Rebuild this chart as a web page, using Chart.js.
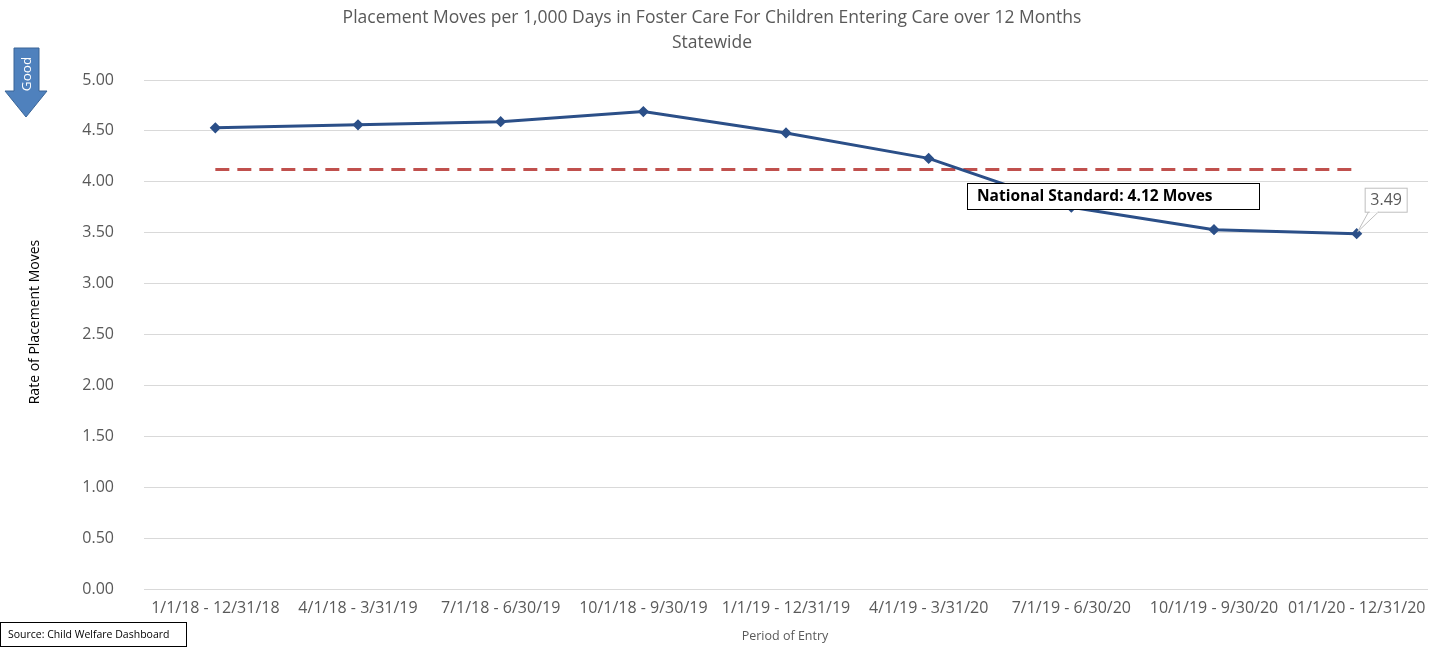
<!DOCTYPE html>
<html>
<head>
<meta charset="utf-8">
<script src="https://cdn.jsdelivr.net/npm/chart.js@4.4.1/dist/chart.umd.min.js"></script>
<style>
  html, body { margin: 0; padding: 0; background: #fff; }
  #wrap { position: relative; width: 1442px; height: 647px; }
</style>
</head>
<body>
<div id="wrap"><canvas id="moves-chart" width="1442" height="647"></canvas></div>
<script>
// chart data
let periods = ['1/1/18 - 12/31/18', '4/1/18 - 3/31/19', '7/1/18 - 6/30/19', '10/1/18 - 9/30/19',
  '1/1/19 - 12/31/19', '4/1/19 - 3/31/20', '7/1/19 - 6/30/20', '10/1/19 - 9/30/20', '01/1/20 - 12/31/20'];
let moveRates = [4.53, 4.56, 4.59, 4.69, 4.48, 4.23, 3.75, 3.53, 3.49];
let nationalStandard = [4.12, 4.12, 4.12, 4.12, 4.12, 4.12, 4.12, 4.12, 4.12];
let yTicks = [0, 0.5, 1, 1.5, 2, 2.5, 3, 3.5, 4, 4.5, 5];

let titleLines = ['Placement Moves per 1,000 Days in Foster Care For Children Entering Care over 12 Months', 'Statewide'];
let fontFamily = '"Open Sans", "Noto Sans", sans-serif';
let gray = '#595959';

// draws titles, the "Good" arrow, label boxes and source note
let extras = {
  id: 'extras',
  afterDatasetsDraw(chart){
    let ctx = chart.ctx;
    let xs = chart.scales.x;
    let ys = chart.scales.y;
    ctx.save();

    // title
    ctx.fillStyle = gray;
    ctx.font = '17.5px ' + fontFamily;
    ctx.textAlign = 'center';
    ctx.textBaseline = 'middle';
    ctx.fillText(titleLines[0], 712, 18);
    ctx.fillText(titleLines[1], 712, 43);

    // axis titles
    ctx.font = '12.5px ' + fontFamily;
    ctx.fillText('Period of Entry', 785, 636);
    ctx.save();
    ctx.translate(35, 322);
    ctx.rotate(-Math.PI / 2);
    ctx.fillStyle = '#000';
    ctx.font = '14px ' + fontFamily;
    ctx.fillText('Rate of Placement Moves', 0, 0);
    ctx.restore();

    // good arrow
    ctx.beginPath();
    ctx.moveTo(14, 48);
    ctx.lineTo(39, 48);
    ctx.lineTo(39, 91);
    ctx.lineTo(47, 91);
    ctx.lineTo(26, 117);
    ctx.lineTo(5, 91);
    ctx.lineTo(14, 91);
    ctx.closePath();
    ctx.fillStyle = '#4f81bd';
    ctx.fill();
    ctx.strokeStyle = '#3a6597';
    ctx.lineWidth = 1;
    ctx.stroke();
    ctx.save();
    ctx.translate(27, 74);
    ctx.rotate(-Math.PI / 2);
    ctx.fillStyle = '#fff';
    ctx.font = '13.5px ' + fontFamily;
    ctx.fillText('Good', 0, 0);
    ctx.restore();

    // national standard label
    ctx.fillStyle = '#fff';
    ctx.fillRect(967, 183, 292, 26);
    ctx.strokeStyle = '#000';
    ctx.lineWidth = 1;
    ctx.strokeRect(967.5, 183.5, 292, 26);
    ctx.fillStyle = '#000';
    ctx.font = 'bold 15.5px ' + fontFamily;
    ctx.textAlign = 'left';
    ctx.fillText('National Standard: ' + nationalStandard[0].toFixed(2) + ' Moves', 977, 197);

    // callout for last value
    let last = moveRates.length - 1;
    let px = xs.getPixelForValue(last);
    let py = ys.getPixelForValue(moveRates[last]);
    let bx = px + 8, by = py - 46, bw = 42, bh = 24;
    ctx.beginPath();
    ctx.moveTo(bx + 4, by + bh);
    ctx.lineTo(px + 1, py - 2);
    ctx.lineTo(bx + 14, by + bh);
    ctx.closePath();
    ctx.fillStyle = '#fff';
    ctx.fill();
    ctx.strokeStyle = '#bfbfbf';
    ctx.stroke();
    ctx.fillStyle = '#fff';
    ctx.fillRect(bx, by, bw, bh);
    ctx.strokeRect(bx + 0.5, by + 0.5, bw, bh);
    ctx.fillRect(bx + 5, by + bh - 1, 8, 2);
    ctx.fillStyle = gray;
    ctx.font = '16px ' + fontFamily;
    ctx.textAlign = 'center';
    ctx.fillText(moveRates[last].toFixed(2), bx + bw / 2 + 0.5, by + bh / 2 + 1);

    // source box
    ctx.fillStyle = '#fff';
    ctx.fillRect(0, 622, 187, 25);
    ctx.strokeStyle = '#000';
    ctx.strokeRect(0.5, 622.5, 186, 24);
    ctx.fillStyle = '#000';
    ctx.font = '10.5px ' + fontFamily;
    ctx.textAlign = 'left';
    ctx.fillText('Source: Child Welfare Dashboard', 8, 635);

    ctx.restore();
  }
};

let ctx = document.getElementById('moves-chart').getContext('2d');
let myChart = new Chart(ctx, {
  type: 'line',
  data: {
    labels: periods,
    datasets: [
      {
        label: 'Rate',
        data: moveRates,
        borderColor: '#2b4f88',
        backgroundColor: '#2b4f88',
        borderWidth: 3,
        pointStyle: 'rectRot',
        pointRadius: 3.5,
        pointHoverRadius: 3.5,
        tension: 0,
        order: 1
      },
      {
        label: 'National Standard',
        data: nationalStandard,
        borderColor: '#c0504d',
        borderWidth: 3,
        borderDash: [14, 8],
        pointRadius: 0,
        tension: 0,
        order: 2
      }
    ]
  },
  options: {
    responsive: false,
    animation: false,
    layout: { padding: { top: 80, right: 14, left: 0, bottom: 0 } },
    plugins: {
      legend: { display: false },
      title: { display: false },
      tooltip: { enabled: false }
    },
    scales: {
      x: {
        offset: true,
        grid: { display: false, drawTicks: false },
        border: { display: false },
        ticks: {
          color: gray,
          font: { family: fontFamily, size: 16 },
          padding: 10,
          maxRotation: 0,
          autoSkip: false
        },
        afterFit: function(scale){ scale.height = 58; }
      },
      y: {
        min: 0,
        max: 5,
        afterBuildTicks: function(scale){
          scale.ticks = yTicks.map(v => ({ value: v }));
        },
        grid: { color: '#d9d9d9', drawTicks: false, lineWidth: 1 },
        border: { display: false },
        ticks: {
          color: gray,
          font: { family: fontFamily, size: 16 },
          padding: 30,
          callback: function(v){ return Number(v).toFixed(2); }
        },
        afterFit: function(scale){ scale.width = 144; }
      }
    }
  },
  plugins: [extras]
});
</script>
</body>
</html>
